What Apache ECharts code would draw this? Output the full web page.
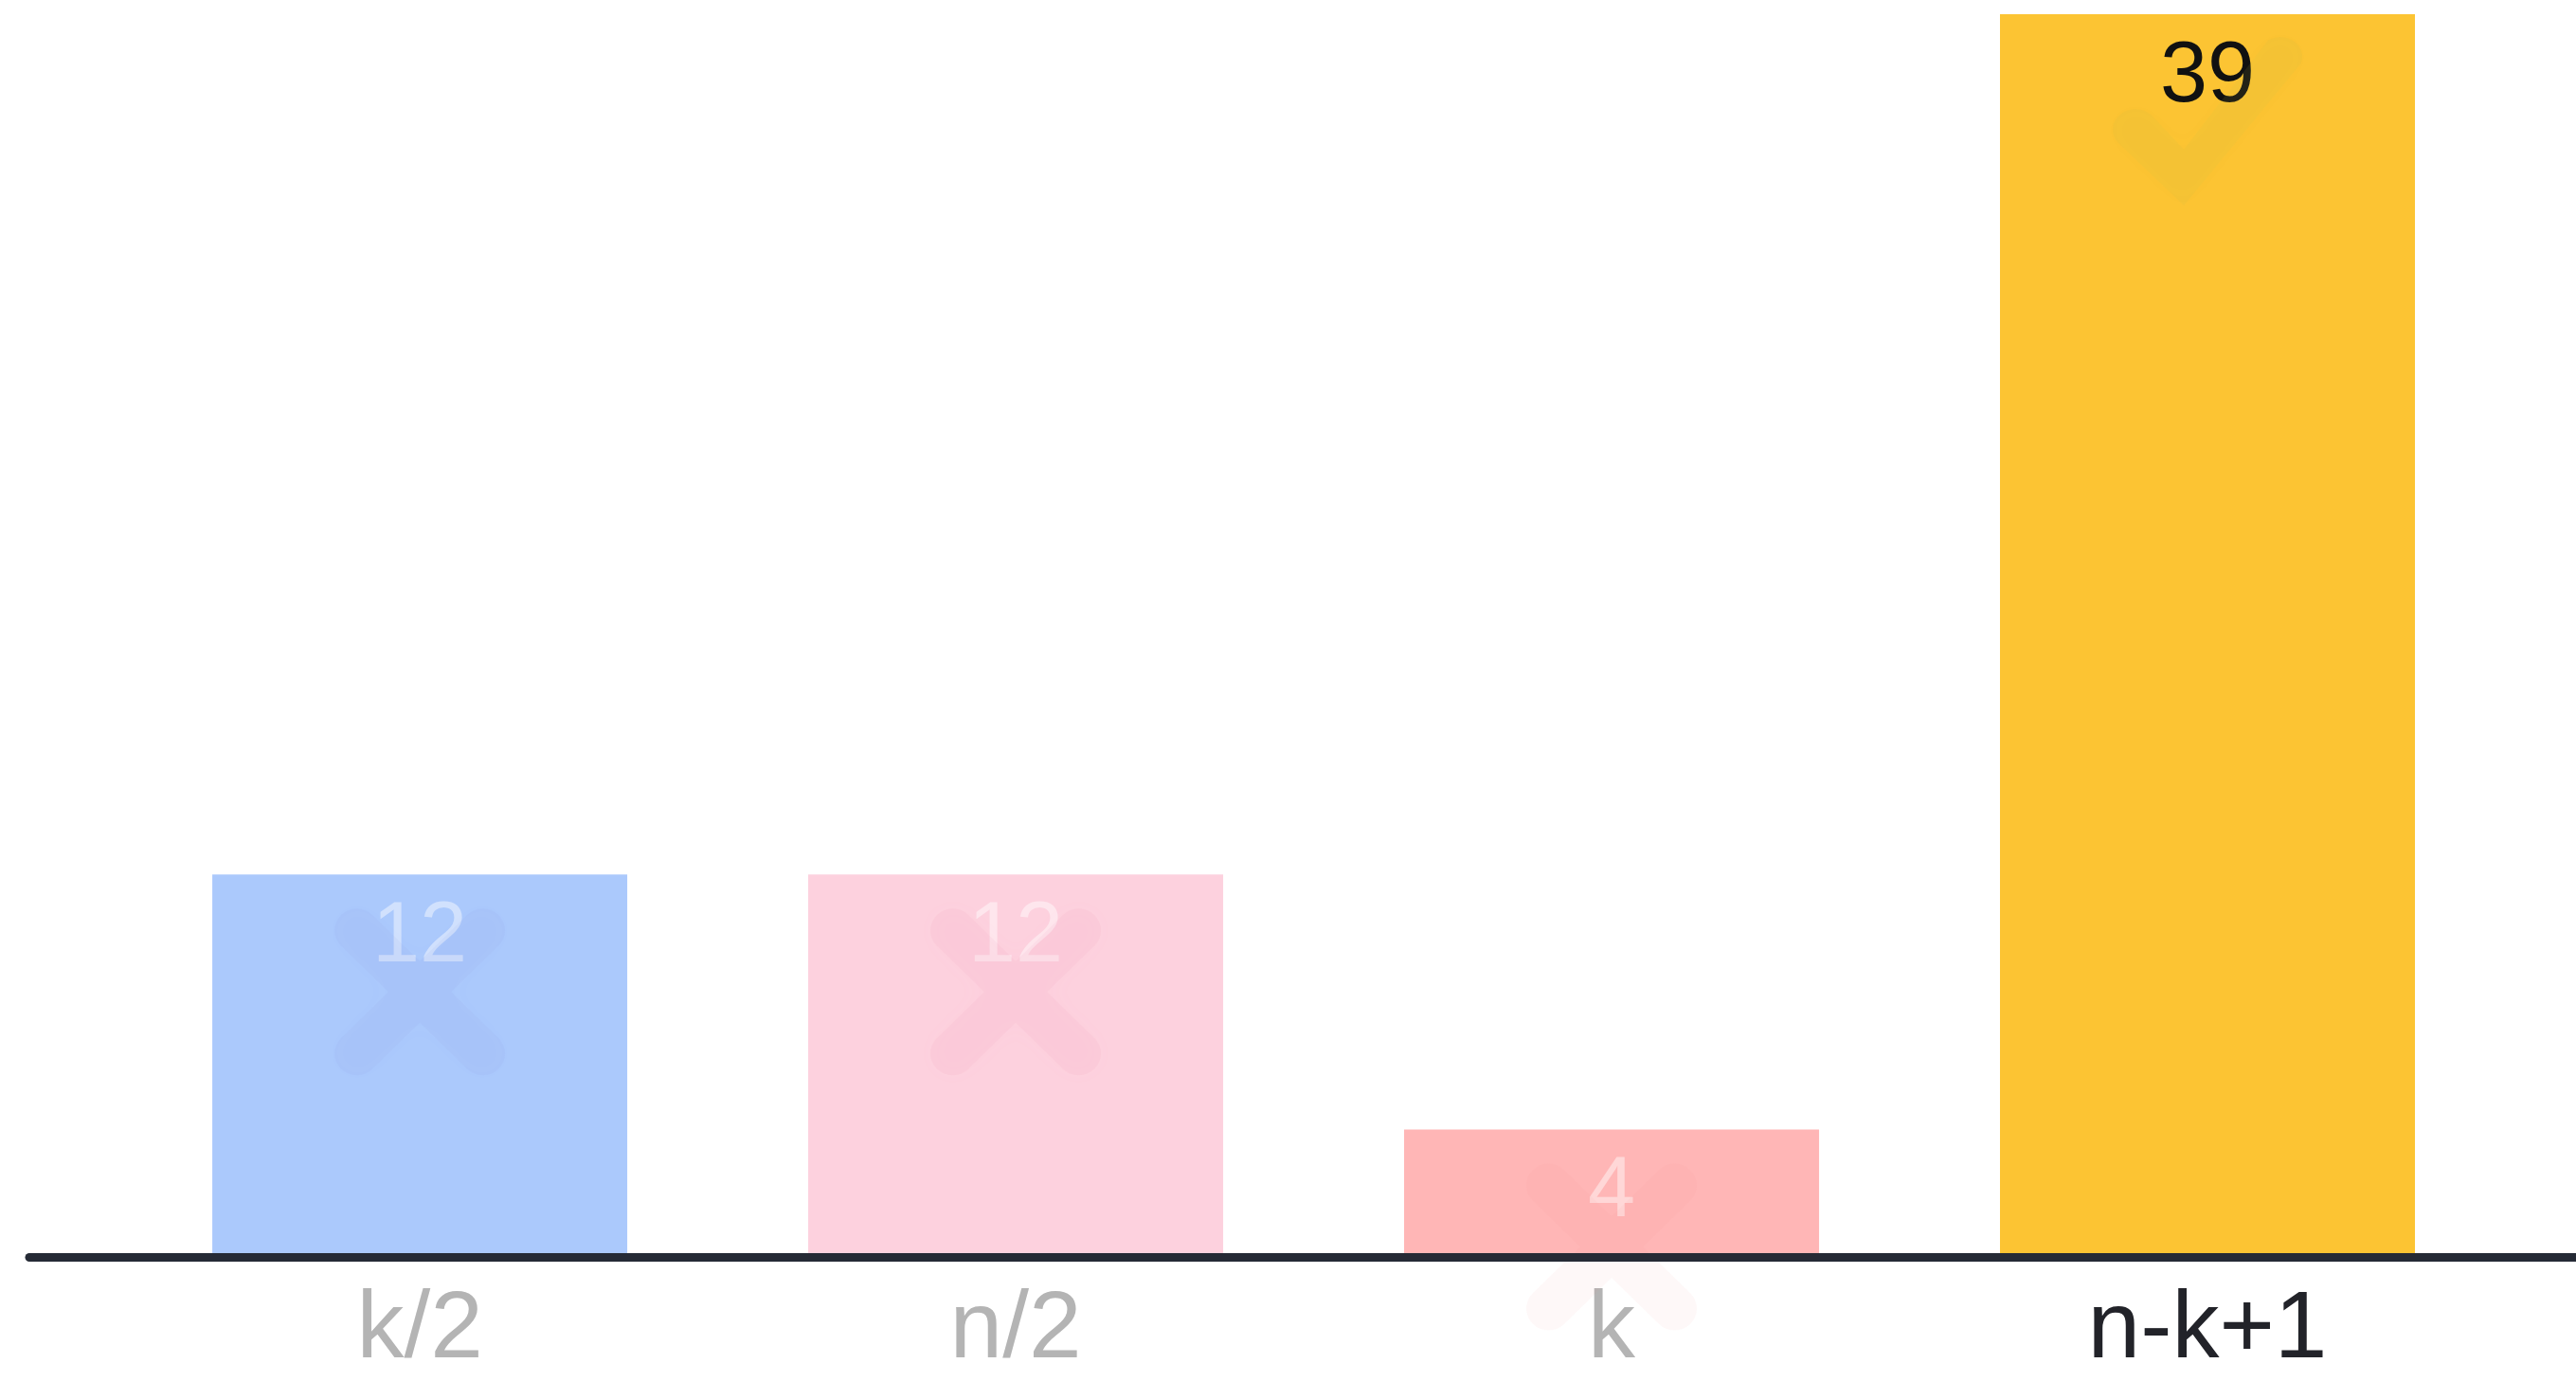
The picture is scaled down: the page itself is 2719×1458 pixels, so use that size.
<!DOCTYPE html>
<html>
<head>
<meta charset="utf-8">
<script src="https://cdn.jsdelivr.net/npm/echarts@6/dist/echarts.min.js"></script>
<style>
  html, body { margin: 0; padding: 0; background: #ffffff; }
  #chart { width: 2719px; height: 1458px; }
</style>
</head>
<body>
<div id="chart"></div>
<script>
// Categories, values and the mark shown on each bar
const categories = ['k/2', 'n/2', 'k', 'n-k+1'];
const values = [12, 12, 4, 39];
const marks = ['cross', 'cross', 'cross', 'check'];
const highlighted = [false, false, false, true];

// Visual styling
const barColors = ['#abc9fc', '#fdd1de', '#ffb6b6', '#fcc433'];
const markColors = [
  'rgba(150,155,225,0.13)',
  'rgba(240,160,190,0.15)',
  'rgba(245,150,150,0.08)',
  'rgba(190,190,80,0.13)'
];
const FONT = '"Liberation Sans", Arial, Helvetica, sans-serif';

// Cross and check glyphs with rounded stroke ends
const CROSS_PATH = 'path://M20,0 L50,30 L80,0 A14.14,14.14 0 0 1 100,20 L70,50 L100,80 ' +
  'A14.14,14.14 0 0 1 80,100 L50,70 L20,100 A14.14,14.14 0 0 1 0,80 L30,50 L0,20 ' +
  'A14.14,14.14 0 0 1 20,0 Z';
const CHECK_PATH = 'path://M0,62 A12.4,12.4 0 0 1 18,45 L36,66 L82,0 A12,12 0 0 1 100,14 L36,100 Z';

const chart = echarts.init(document.getElementById('chart'), null, { renderer: 'canvas' });

const barData = values.map((v, i) => ({
  value: v,
  itemStyle: { color: barColors[i] },
  label: highlighted[i]
    ? { color: '#111111' }
    : { color: 'rgba(255,255,255,0.45)' }
}));

const markData = values.map((v, i) => {
  const style = { color: markColors[i], shadowBlur: 24, shadowColor: markColors[i] };
  return marks[i] === 'check'
    ? { value: v, symbol: CHECK_PATH, symbolSize: [200, 178], symbolOffset: [0, 113], itemStyle: style }
    : { value: v, symbol: CROSS_PATH, symbolSize: [180, 176], symbolOffset: [0, 124], itemStyle: style };
});

const axisData = categories.map((c, i) => ({
  value: c,
  textStyle: { color: highlighted[i] ? '#222329' : '#b4b4b4' }
}));

chart.setOption({
  backgroundColor: '#ffffff',
  animation: false,
  grid: [
    { left: 128.6, right: 74.5, top: 15, bottom: 131 },
    { left: 31, right: 0, top: 15, bottom: 131 }
  ],
  xAxis: [
    {
      type: 'category',
      gridIndex: 0,
      data: axisData,
      axisLine: { show: false },
      axisTick: { show: false },
      axisLabel: { fontFamily: FONT, fontSize: 100, margin: 28 }
    },
    {
      type: 'value',
      gridIndex: 1,
      z: 10,
      axisLine: { show: true, lineStyle: { color: '#252a35', width: 9 } },
      axisTick: { show: false },
      axisLabel: { show: false },
      splitLine: { show: false }
    }
  ],
  yAxis: [
    { type: 'value', gridIndex: 0, min: 0, max: 39, show: false },
    { type: 'value', gridIndex: 1, show: false }
  ],
  series: [
    {
      type: 'bar',
      xAxisIndex: 0,
      yAxisIndex: 0,
      z: 2,
      barWidth: 438,
      data: barData,
      label: {
        show: true,
        position: 'insideTop',
        distance: 22,
        fontFamily: FONT,
        fontSize: 90
      }
    },
    {
      type: 'scatter',
      xAxisIndex: 0,
      yAxisIndex: 0,
      z: 2,
      silent: true,
      data: markData
    }
  ]
});
</script>
</body>
</html>
